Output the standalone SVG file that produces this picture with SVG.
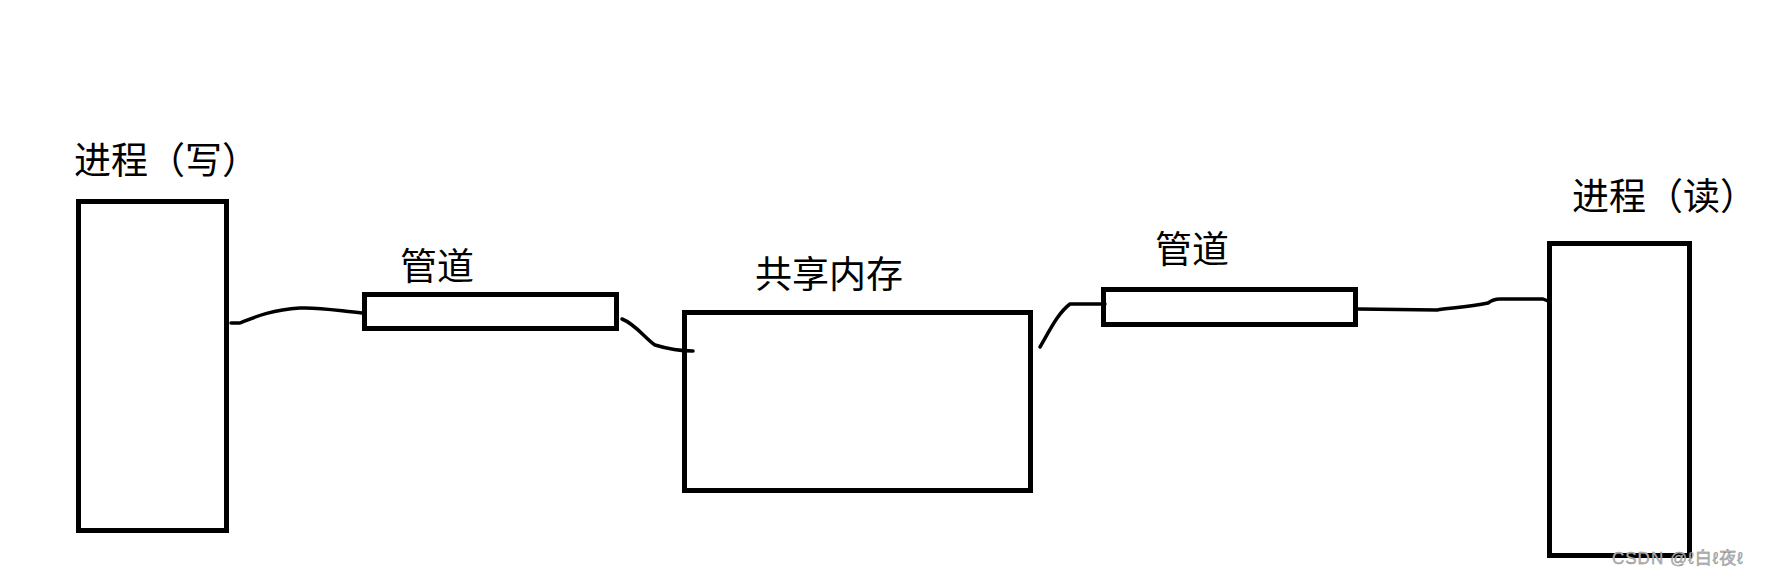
<svg xmlns="http://www.w3.org/2000/svg" width="1776" height="579" viewBox="0 0 1776 579">
<style>
.box{fill:#fff;stroke:#000;stroke-width:5}
.lbl{font-family:"Microsoft YaHei","Noto Sans CJK SC",sans-serif;font-size:37px;fill:#000}
.wire{fill:none;stroke:#000;stroke-width:3.5;stroke-linecap:round;stroke-linejoin:round}
.wm{font-family:"Liberation Sans","Noto Sans CJK SC",sans-serif;font-size:17px;fill:#bbb;stroke:#888;stroke-width:0.4;letter-spacing:1px}
</style>
<rect width="1776" height="579" fill="#fff"/>
<g id="proc-write">
<rect class="box" x="78.5" y="201.5" width="148" height="329"/>
<text class="lbl" x="74" y="174">进程（写）</text>
</g>
<g id="pipe1">
<rect class="box" x="364.5" y="294.5" width="252" height="34"/>
<text class="lbl" x="400" y="280">管道</text>
</g>
<g id="shm">
<rect class="box" x="684.5" y="312.5" width="346" height="178"/>
<text class="lbl" x="755" y="288">共享内存</text>
</g>
<g id="pipe2">
<rect class="box" x="1103.5" y="289.5" width="252" height="35"/>
<text class="lbl" x="1155" y="263">管道</text>
</g>
<g id="proc-read">
<rect class="box" x="1549.5" y="243.5" width="140" height="312"/>
<text class="lbl" x="1572" y="210">进程（读）</text>
</g>
<g id="connectors">
<path class="wire" d="M231 323 L240 323 C255 317 270 310 300 308 C320 307 340 311 362 313"/>
<path class="wire" d="M622 319 C635 324 645 338 655 345 C668 349 680 351 693 351"/>
<path class="wire" d="M1040 347 C1050 330 1058 313 1070 304 L1105 304"/>
<path class="wire" d="M1358 309 L1437 310 C1450 308 1470 307 1488 303 C1492 300 1496 299 1500 299 L1543 299 L1548 301"/>
</g>
<text class="wm" x="1612" y="564">CSDN @ℓ白ℓ夜ℓ</text>
</svg>
